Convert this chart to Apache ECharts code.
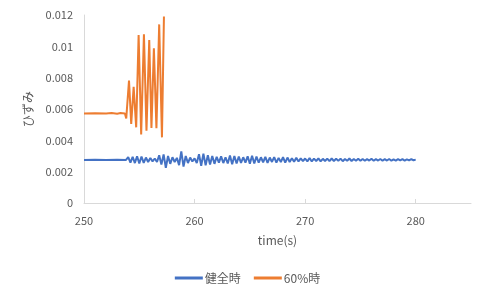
<!DOCTYPE html>
<html>
<head>
<meta charset="utf-8">
<script src="https://cdn.jsdelivr.net/npm/echarts@6/dist/echarts.min.js"></script>
<style>html,body{margin:0;padding:0;background:#fff;}#c{width:495px;height:297px;}</style>
</head>
<body>
<div id="c"></div>
<script>
var seriesNames = ['健全時', '60%時'];
var xAxisName = 'time(s)';
var yAxisName = 'ひずみ';
var xTicks = [250, 260, 270, 280];
var yTicks = [0, 0.002, 0.004, 0.006, 0.008, 0.01, 0.012];

// 健全時 : [time, strain]
var healthy = [
[250.0,0.00275],[251.0,0.00276],[252.0,0.00275],[253.0,0.00276],[253.8,0.00275],
[254.0,0.00293],[254.2,0.00258],[254.4,0.00295],[254.6,0.00255],[254.8,0.00298],
[255.0,0.00252],[255.2,0.00297],[255.4,0.00256],[255.6,0.00290],[255.8,0.00262],
[256.0,0.00287],[256.2,0.00266],[256.4,0.00284],[256.6,0.00262],[256.8,0.00305],
[257.0,0.00245],[257.2,0.00310],[257.4,0.00225],[257.6,0.00300],[257.8,0.00250],
[258.0,0.00292],[258.2,0.00262],[258.4,0.00288],[258.6,0.00242],[258.8,0.00330],
[259.0,0.00232],[259.2,0.00300],[259.4,0.00255],[259.6,0.00290],[259.8,0.00265],
[260.0,0.00285],[260.2,0.00255],[260.4,0.00312],[260.6,0.00238],[260.8,0.00315],
[261.0,0.00240],[261.2,0.00305],[261.4,0.00245],[261.6,0.00300],[261.8,0.00250],
[262.0,0.00295],[262.2,0.00258],[262.4,0.00298],[262.6,0.00255],[262.8,0.00292],
[263.0,0.00252],[263.2,0.00303],[263.4,0.00248],[263.6,0.00300],[263.8,0.00252],
[264.0,0.00296],[264.2,0.00256],[264.4,0.00292],[264.6,0.00258],[264.8,0.00298],
[265.0,0.00250],[265.2,0.00302],[265.4,0.00252],[265.6,0.00296],[265.8,0.00257],
[266.0,0.00292],[266.2,0.00260],[266.4,0.00294],[266.6,0.00256],[266.8,0.00290],
[267.0,0.00262],[267.2,0.00293],[267.4,0.00258],[267.6,0.00288],[267.8,0.00262],
[268.0,0.00292],[268.2,0.00258],[268.4,0.00290],[268.6,0.00262],[268.8,0.00286],
[269.0,0.00264],[269.2,0.00288],[269.4,0.00265],[269.6,0.00285],[269.8,0.00267],
[270.0,0.00284],[270.2,0.00266],[270.4,0.00287],[270.6,0.00265],[270.8,0.00283],
[271.0,0.00268],[271.2,0.00285],[271.4,0.00266],[271.6,0.00282],[271.8,0.00268],
[272.0,0.00283],[272.2,0.00267],[272.4,0.00284],[272.6,0.00268],[272.8,0.00282],
[273.0,0.00269],[273.2,0.00283],[273.4,0.00267],[273.6,0.00281],[273.8,0.00269],
[274.0,0.00284],[274.2,0.00268],[274.4,0.00281],[274.6,0.00270],[274.8,0.00282],
[275.0,0.00269],[275.2,0.00281],[275.4,0.00270],[275.6,0.00280],[275.8,0.00271],
[276.0,0.00282],[276.2,0.00270],[276.4,0.00280],[276.6,0.00271],[276.8,0.00281],
[277.0,0.00270],[277.2,0.00280],[277.4,0.00271],[277.6,0.00281],[277.8,0.00270],
[278.0,0.00279],[278.2,0.00271],[278.4,0.00280],[278.6,0.00272],[278.8,0.00280],
[279.0,0.00271],[279.2,0.00279],[279.4,0.00272],[279.6,0.00280],[279.8,0.00273],
[280.0,0.00277]
];

// 60%時 : [time, strain]
var damaged = [
[250.0,0.00572],[251.0,0.00573],[252.0,0.00571],[252.5,0.00574],[253.0,0.00570],
[253.3,0.00574],[253.7,0.00572],[253.82,0.00540],[254.07,0.00781],[254.27,0.00504],
[254.49,0.00742],[254.72,0.00483],[254.94,0.01072],[255.17,0.00438],[255.42,0.01077],
[255.65,0.00461],[255.90,0.01040],[256.10,0.00479],[256.32,0.00987],[256.55,0.00477],
[256.80,0.01140],[257.05,0.00419],[257.23,0.01190]
];

var font = '"Noto Sans CJK JP", "Noto Sans", sans-serif';
var chart = echarts.init(document.getElementById('c'), null, {renderer: 'canvas'});
chart.setOption({
  animation: false,
  backgroundColor: '#ffffff',
  textStyle: {fontFamily: font},
  grid: {left: 84, top: 15, right: 24, bottom: 94},
  legend: {
    bottom: 8, left: 'center',
    data: seriesNames.map(function (n) { return {name: n, icon: 'rect'}; }),
    itemWidth: 28, itemHeight: 3, itemGap: 13,
    textStyle: {color: '#595959', fontSize: 12, fontFamily: font, padding: [0, 0, 0, -3]}
  },
  xAxis: {
    type: 'value', min: xTicks[0], max: 285, interval: 10,
    name: xAxisName, nameLocation: 'middle', nameGap: 31,
    nameTextStyle: {color: '#595959', fontSize: 12, fontFamily: font},
    axisLine: {lineStyle: {color: '#d9d9d9'}},
    axisTick: {show: true, inside: true, length: 4, lineStyle: {color: '#d9d9d9'}},
    axisLabel: {color: '#595959', fontSize: 11, showMaxLabel: false, margin: 12,
      formatter: function (v) { return xTicks.indexOf(v) >= 0 ? String(v) : ''; }},
    splitLine: {show: false}
  },
  yAxis: {
    type: 'value', min: yTicks[0], max: yTicks[yTicks.length - 1], interval: 0.002,
    name: yAxisName, nameLocation: 'middle', nameGap: 50, nameRotate: 90,
    nameTextStyle: {color: '#595959', fontSize: 12, fontFamily: font},
    axisLine: {show: true, lineStyle: {color: '#d9d9d9'}},
    axisTick: {show: false},
    axisLabel: {color: '#595959', fontSize: 11, margin: 11,
      formatter: function (v) { return String(parseFloat(v.toFixed(4))); }},
    splitLine: {show: false}
  },
  series: [
    {name: seriesNames[0], type: 'line', data: healthy, showSymbol: false,
     lineStyle: {color: '#4472C4', width: 2}, itemStyle: {color: '#4472C4'}},
    {name: seriesNames[1], type: 'line', data: damaged, showSymbol: false,
     lineStyle: {color: '#ED7D31', width: 2}, itemStyle: {color: '#ED7D31'}}
  ]
});
</script>
</body>
</html>
